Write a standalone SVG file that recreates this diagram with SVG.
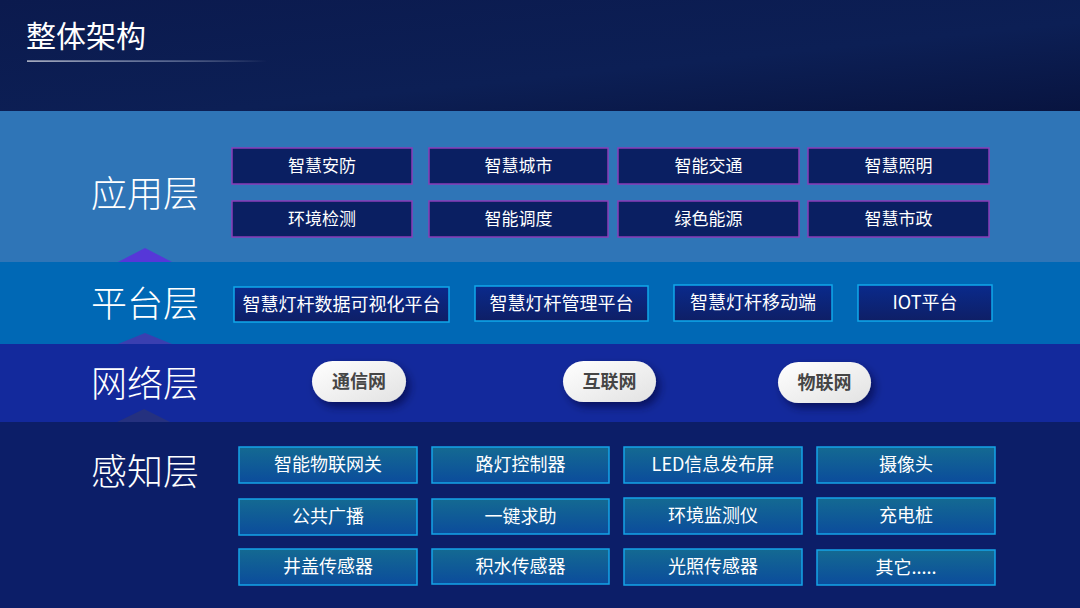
<svg xmlns="http://www.w3.org/2000/svg" width="1080" height="608" viewBox="0 0 1080 608">
<style>
text{font-family:"Noto Sans CJK SC","Noto Sans",sans-serif;fill:#ffffff}
.layer{font-size:36px;font-weight:300}
.app rect{fill:#0a1f62;stroke:#8a3cb8;stroke-width:1.5}
.app text{font-size:17px;text-anchor:middle}
.plat rect{fill:url(#gPlat);stroke:#11a8ea;stroke-width:1.5}
.plat text{font-size:18px;text-anchor:middle}
.pill rect{fill:url(#gPill);filter:url(#sh)}
.pill text{font-size:18px;font-weight:700;fill:#454545;text-anchor:middle}
.sens rect{fill:url(#gSens);stroke:#14a4e8;stroke-width:1.5}
.sens text{font-size:18px;text-anchor:middle}
</style>
<defs>
<linearGradient id="gTop" x1="0" y1="0" x2="1" y2="1">
<stop offset="0" stop-color="#0b1a4e"/><stop offset="0.6" stop-color="#0c1f55"/><stop offset="1" stop-color="#081440"/>
</linearGradient>
<linearGradient id="gLine" x1="0" y1="0" x2="1" y2="0">
<stop offset="0" stop-color="#ffffff" stop-opacity="0.9"/><stop offset="0.6" stop-color="#b8c4e0" stop-opacity="0.6"/><stop offset="1" stop-color="#ffffff" stop-opacity="0"/>
</linearGradient>
<linearGradient id="gPlat" x1="0" y1="0" x2="0" y2="1">
<stop offset="0" stop-color="#0a2a8c"/><stop offset="1" stop-color="#0e1f66"/>
</linearGradient>
<linearGradient id="gPill" x1="0" y1="0" x2="1" y2="1">
<stop offset="0" stop-color="#ffffff"/><stop offset="1" stop-color="#e2e2e2"/>
</linearGradient>
<linearGradient id="gSens" x1="0" y1="0" x2="0" y2="1">
<stop offset="0" stop-color="#146a92"/><stop offset="1" stop-color="#0b4c9c"/>
</linearGradient>
<filter id="sh" x="-30%" y="-30%" width="170%" height="180%">
<feDropShadow dx="4" dy="5" stdDeviation="4" flood-color="#000030" flood-opacity="0.55"/>
</filter>
</defs>

<g id="background">
<rect x="0" y="0" width="1080" height="111" fill="url(#gTop)"/>
<rect x="0" y="111" width="1080" height="151" fill="#2f75b7"/>
<rect x="0" y="262" width="1080" height="82" fill="#0068b5"/>
<rect x="0" y="344" width="1080" height="78" fill="#13299c"/>
<rect x="0" y="422" width="1080" height="186" fill="#0c1e68"/>
<polygon points="118,262 145,248 172,262" fill="#5637d8"/>
<polygon points="118,344 145,333 172,344" fill="#3a3fb0"/>
<polygon points="117,422 144,409 170,422" fill="#25317f"/>
</g>

<g id="title">
<text x="26" y="47" font-size="30">整体架构</text>
<rect x="27" y="60.5" width="240" height="1.2" fill="url(#gLine)"/>
</g>

<g id="layer-labels">
<text class="layer" x="91" y="207">应用层</text>
<text class="layer" x="91" y="317">平台层</text>
<text class="layer" x="91" y="397">网络层</text>
<text class="layer" x="91" y="485">感知层</text>
</g>

<g class="app">
<g id="app-1"><rect x="232" y="148" width="180" height="36"/><text x="322" y="172">智慧安防</text></g>
<g id="app-2"><rect x="429" y="148" width="179" height="36"/><text x="518.5" y="172">智慧城市</text></g>
<g id="app-3"><rect x="618" y="148" width="181" height="36"/><text x="708.5" y="172">智能交通</text></g>
<g id="app-4"><rect x="808" y="148" width="181" height="36"/><text x="898.5" y="172">智慧照明</text></g>
<g id="app-5"><rect x="232" y="201" width="180" height="36"/><text x="322" y="225">环境检测</text></g>
<g id="app-6"><rect x="429" y="201" width="179" height="36"/><text x="518.5" y="225">智能调度</text></g>
<g id="app-7"><rect x="618" y="201" width="181" height="36"/><text x="708.5" y="225">绿色能源</text></g>
<g id="app-8"><rect x="808" y="201" width="181" height="36"/><text x="898.5" y="225">智慧市政</text></g>
</g>

<g class="plat">
<g id="plat-1"><rect x="234" y="287" width="215" height="35"/><text x="341.5" y="311">智慧灯杆数据可视化平台</text></g>
<g id="plat-2"><rect x="475" y="286" width="173" height="35"/><text x="561.5" y="310">智慧灯杆管理平台</text></g>
<g id="plat-3"><rect x="674" y="285" width="158" height="36"/><text x="753" y="309">智慧灯杆移动端</text></g>
<g id="plat-4"><rect x="858" y="285" width="134" height="36"/><text x="925" y="309">IOT平台</text></g>
</g>

<g class="pill">
<g id="net-1"><rect x="312" y="361" width="94" height="41" rx="20.5"/><text x="359" y="388">通信网</text></g>
<g id="net-2"><rect x="563" y="361" width="93" height="41" rx="20.5"/><text x="609.5" y="388">互联网</text></g>
<g id="net-3"><rect x="778" y="362" width="93" height="41" rx="20.5"/><text x="824.5" y="389">物联网</text></g>
</g>

<g class="sens">
<g id="sens-1"><rect x="239" y="447" width="178" height="36"/><text x="328" y="471">智能物联网关</text></g>
<g id="sens-2"><rect x="432" y="447" width="177" height="36"/><text x="520.5" y="471">路灯控制器</text></g>
<g id="sens-3"><rect x="624" y="447" width="178" height="36"/><text x="713" y="471">LED信息发布屏</text></g>
<g id="sens-4"><rect x="817" y="447" width="178" height="36"/><text x="906" y="471">摄像头</text></g>
<g id="sens-5"><rect x="239" y="499" width="178" height="36"/><text x="328" y="523">公共广播</text></g>
<g id="sens-6"><rect x="432" y="499" width="177" height="35"/><text x="520.5" y="523">一键求助</text></g>
<g id="sens-7"><rect x="624" y="498" width="178" height="36"/><text x="713" y="522">环境监测仪</text></g>
<g id="sens-8"><rect x="817" y="498" width="178" height="36"/><text x="906" y="522">充电桩</text></g>
<g id="sens-9"><rect x="239" y="549" width="178" height="36"/><text x="328" y="573">井盖传感器</text></g>
<g id="sens-10"><rect x="432" y="549" width="177" height="35"/><text x="520.5" y="573">积水传感器</text></g>
<g id="sens-11"><rect x="624" y="549" width="178" height="36"/><text x="713" y="573">光照传感器</text></g>
<g id="sens-12"><rect x="817" y="550" width="178" height="35"/><text x="906" y="574">其它.....</text></g>
</g>
</svg>
